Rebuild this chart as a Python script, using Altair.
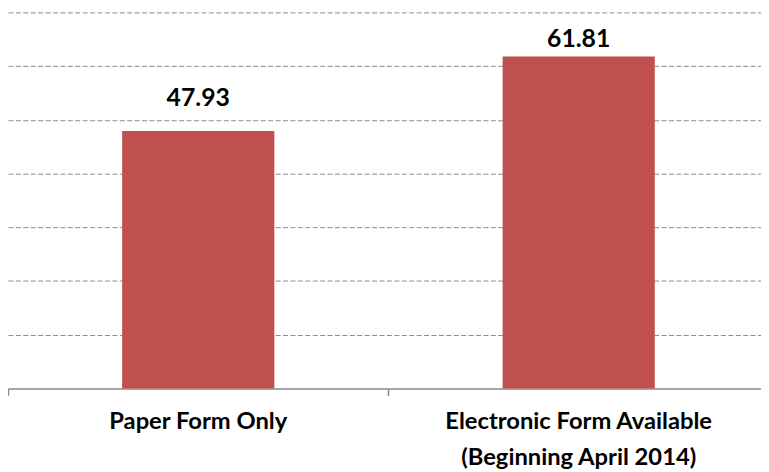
import altair as alt
import pandas as pd

categories = ["Paper Form Only", "Electronic Form Available|(Beginning April 2014)"]
values = [47.93, 61.81]
labels = ["47.93", "61.81"]

df = pd.DataFrame({"cat": categories, "val": values, "lab": labels})

x_enc = alt.X(
    "cat:N",
    sort=categories,
    scale=alt.Scale(range=[0, 769], paddingInner=0, paddingOuter=0),
    axis=alt.Axis(
        title=None,
        labelAngle=0,
        labelExpr="split(datum.label, '|')",
        labelFont="Lato",
        labelFontWeight="bold",
        labelFontSize=24,
        labelColor="#000000",
        labelBaseline="alphabetic",
        labelPadding=34,
        labelLineHeight=36,
        labelLimit=500,
        bandPosition=0,
        tickSize=7,
        tickColor="#888888",
        tickWidth=1.5,
        domainColor="#888888",
        domainWidth=1.5,
        grid=False,
    ),
)

y_enc = alt.Y(
    "val:Q",
    scale=alt.Scale(domain=[0, 70], nice=False, zero=True),
    axis=alt.Axis(
        title=None,
        values=[10, 20, 30, 40, 50, 60, 70],
        labels=False,
        ticks=False,
        domain=False,
        grid=True,
        gridColor="#8c8c8c",
        gridDash=[5, 2.5],
        gridWidth=1,
    ),
)

base = alt.Chart(df)

bars = base.mark_bar(color="#C0504D", width={"band": 0.4}).encode(x=x_enc, y=y_enc)

text_style = dict(font="Lato", fontWeight="bold", fontSize=25, color="#000000", baseline="alphabetic", align="center")

t1 = base.transform_filter(alt.datum.lab == "47.93").mark_text(dy=-25, **text_style).encode(
    x=alt.X("cat:N", sort=categories), y="val:Q", text="lab:N"
)
t2 = base.transform_filter(alt.datum.lab == "61.81").mark_text(dy=-10, **text_style).encode(
    x=alt.X("cat:N", sort=categories), y="val:Q", text="lab:N"
)

chart = (
    alt.layer(bars, t1, t2)
    .properties(
        width=761,
        height=380,
        autosize=alt.AutoSizeParams(type="none"),
        padding={"left": 0, "top": 2, "right": 0, "bottom": 82},
        background="#ffffff",
    )
    .configure_view(stroke=None)
)

chart.save("out.html", embed_options={"renderer": "svg", "actions": False})
